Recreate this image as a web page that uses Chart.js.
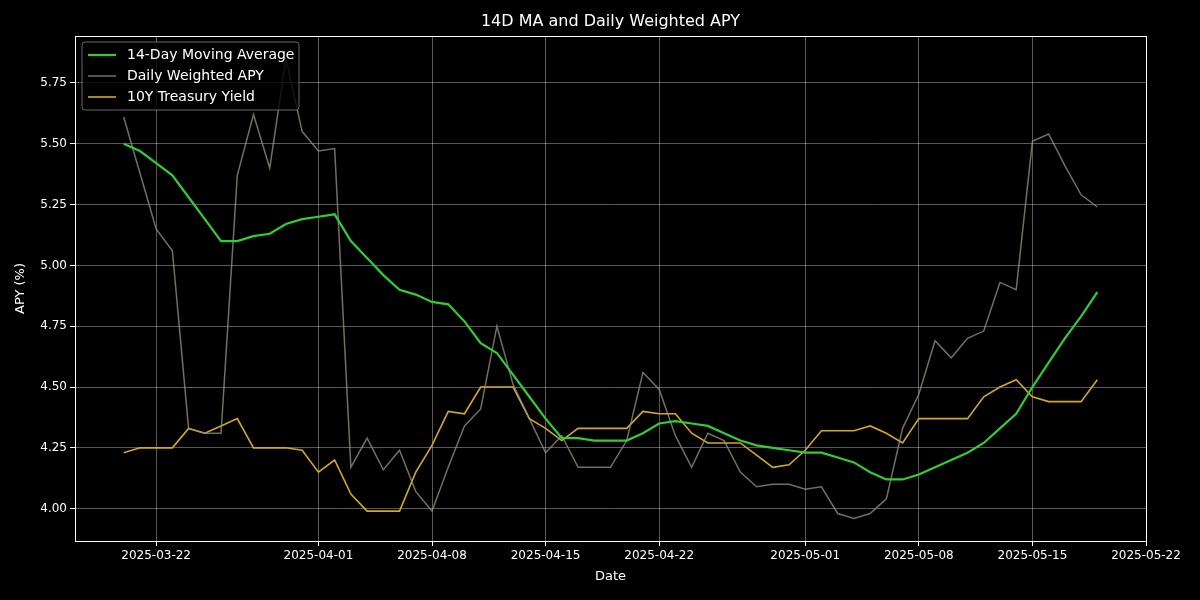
<!DOCTYPE html><html><head><script src="https://cdn.jsdelivr.net/npm/chart.js@4"></script>
<style>html,body{margin:0;background:#000}#w{width:1200px;height:600px}</style></head><body><div id="w"><canvas id="c"></canvas></div>
<script>
const startDate = '2025-03-20';
const tickDays = [2,12,19,26,33,42,49,56,63];
const tickLabels = ['2025-03-22','2025-04-01','2025-04-08','2025-04-15','2025-04-22','2025-05-01','2025-05-08','2025-05-15','2025-05-22'];
const maValues = [5.50,5.47,5.42,5.37,5.28,5.19,5.10,5.10,5.12,5.13,5.17,5.19,5.20,5.21,5.10,5.03,4.96,4.90,4.88,4.85,4.84,4.77,4.68,4.64,4.55,4.46,4.37,4.29,4.29,4.28,4.28,4.28,4.31,4.35,4.36,4.35,4.34,4.31,4.28,4.26,4.25,4.24,4.23,4.23,4.21,4.19,4.15,4.12,4.12,4.14,4.17,4.20,4.23,4.27,4.33,4.39,4.50,4.60,4.70,4.79,4.89];
const dailyValues = [5.61,5.38,5.15,5.06,4.33,4.31,4.31,5.37,5.62,5.40,5.85,5.55,5.47,5.48,4.17,4.29,4.16,4.24,4.07,3.99,4.17,4.34,4.41,4.75,4.51,4.37,4.23,4.30,4.17,4.17,4.17,4.28,4.56,4.49,4.30,4.17,4.31,4.28,4.15,4.09,4.10,4.10,4.08,4.09,3.98,3.96,3.98,4.04,4.33,4.47,4.69,4.62,4.70,4.73,4.93,4.90,5.51,5.54,5.41,5.29,5.24];
const treasuryValues = [4.23,4.25,4.25,4.25,4.33,4.31,4.34,4.37,4.25,4.25,4.25,4.24,4.15,4.20,4.06,3.99,3.99,3.99,4.15,4.26,4.40,4.39,4.50,4.50,4.50,4.37,4.33,4.28,4.33,4.33,4.33,4.33,4.40,4.39,4.39,4.31,4.27,4.27,4.27,4.22,4.17,4.18,4.24,4.32,4.32,4.32,4.34,4.31,4.27,4.37,4.37,4.37,4.37,4.46,4.50,4.53,4.46,4.44,4.44,4.44,4.53];
const pts = a => a.map((v,i)=>({x:i,y:v}));
const series = [
 {label:'14-Day Moving Average',data:pts(maValues),borderColor:'#32cd32',borderWidth:2.2},
 {label:'Daily Weighted APY',data:pts(dailyValues),borderColor:'rgba(150,150,130,0.75)',borderWidth:1.5},
 {label:'10Y Treasury Yield',data:pts(treasuryValues),borderColor:'#d4aa1c',borderWidth:1.6}
];
const deco = {id:'deco',
 beforeDraw(c){const x=c.ctx;x.save();x.fillStyle='#000';x.fillRect(0,0,c.width,c.height);x.restore();},
 afterDraw(c){const x=c.ctx,a=c.chartArea;x.save();
  x.strokeStyle='#ffffff';x.lineWidth=1;x.strokeRect(a.left+0.5,a.top+0.5,a.right-a.left,a.bottom-a.top);
  x.fillStyle='#fff';x.font='16px "DejaVu Sans"';x.textAlign='center';x.textBaseline='middle';
  x.fillText('14D MA and Daily Weighted APY',(a.left+a.right)/2,22);
  x.font='13px "DejaVu Sans"';
  x.fillText('Date',(a.left+a.right)/2,577);
  x.save();x.translate(21,(a.top+a.bottom)/2);x.rotate(-Math.PI/2);x.fillText('APY (%)',0,0);x.restore();
  const lx=82,ly=42,w=217,h=68;
  x.fillStyle='rgba(0,0,0,0.8)';x.strokeStyle='#666';x.beginPath();x.roundRect(lx,ly,w,h,3);x.fill();x.stroke();
  x.font='14px "DejaVu Sans"';x.textAlign='left';
  series.forEach((s,i)=>{const yy=ly+13+i*21;x.strokeStyle=s.borderColor;x.lineWidth=s.borderWidth;
   x.beginPath();x.moveTo(lx+6,yy);x.lineTo(lx+34,yy);x.stroke();x.fillStyle='#fff';x.fillText(s.label,lx+45,yy);});
  x.restore();}};
new Chart(document.getElementById('c'),{type:'line',
 data:{datasets:series.map(s=>({...s,pointRadius:0,fill:false,tension:0}))},
 options:{responsive:true,maintainAspectRatio:false,animation:false,
  layout:{padding:{top:36,right:54,left:0,bottom:0}},
  plugins:{legend:{display:false},tooltip:{enabled:false}},
  scales:{
   x:{type:'linear',min:-3,max:63,
    afterBuildTicks:ax=>{ax.ticks=tickDays.map(v=>({value:v}));},
    afterFit:ax=>{ax.height=59;},
    ticks:{color:'#fff',font:{size:12,family:'DejaVu Sans'},maxRotation:0,callback:v=>tickLabels[tickDays.indexOf(v)]},
    grid:{color:'rgba(255,255,255,0.35)',drawTicks:true,tickLength:5,tickColor:'#fff'},border:{display:false}},
   y:{min:3.867,max:5.943,
    afterBuildTicks:ax=>{ax.ticks=[4,4.25,4.5,4.75,5,5.25,5.5,5.75].map(v=>({value:v}));},
    afterFit:ax=>{ax.width=75;},
    ticks:{color:'#fff',font:{size:12,family:'DejaVu Sans'},callback:v=>v.toFixed(2)},
    grid:{color:'rgba(255,255,255,0.35)',tickLength:5,tickColor:'#fff'},border:{display:false}}}},
 plugins:[deco]});
</script></body></html>
